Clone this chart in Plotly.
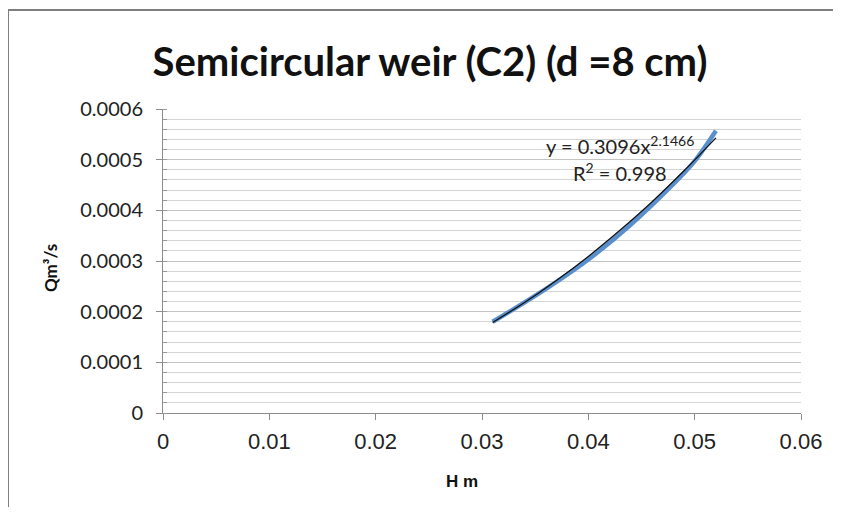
import plotly.graph_objects as go

# Observed data (H in m, Q in m^3/s)
H_obs = [0.031, 0.0355, 0.040, 0.044, 0.048, 0.050, 0.052]
Q_obs = [0.000180, 0.000238, 0.000303, 0.000372, 0.000452, 0.000497, 0.000557]

# Power trendline values
H_fit = [0.031, 0.034, 0.037, 0.040, 0.043, 0.046, 0.049, 0.052]
Q_fit = [0.0001787, 0.000218, 0.0002615, 0.000309, 0.000361, 0.000417, 0.000478, 0.000543]

x_ticks = [0, 0.01, 0.02, 0.03, 0.04, 0.05, 0.06]
y_ticks = [0, 0.0001, 0.0002, 0.0003, 0.0004, 0.0005, 0.0006]
y_labels = ["0", "0.0001", "0.0002", "0.0003", "0.0004", "0.0005", "0.0006"]

# page has 8px body margin, so figure is drawn 8px in from the page edge
OFF = 8
W, H = 825, 499
L, R, T, B = 155, 32, 101, 94
pw, ph = W - L - R, H - T - B

def px(xp):
    return (xp - OFF - L) / pw

def py(yp):
    return (H - B - (yp - OFF)) / ph

fig = go.Figure()
fig.add_trace(go.Scatter(x=H_obs, y=Q_obs, mode="lines", line=dict(color="#5a8fce", width=4.5, shape="spline"),
                         showlegend=False, hoverinfo="skip"))
fig.add_trace(go.Scatter(x=H_fit, y=Q_fit, mode="lines", line=dict(color="#111111", width=1.3, shape="spline"),
                         showlegend=False, hoverinfo="skip"))

fig.update_layout(
    width=W, height=H,
    margin=dict(l=L, r=R, t=T, b=B),
    paper_bgcolor="white", plot_bgcolor="white",
    title=dict(text="<b>Semicircular weir (C2) (d =8 cm)</b>", xref="container", x=(430 - OFF) / W, xanchor="center",
               yref="container", y=1 - (62 - OFF) / H, yanchor="middle",
               font=dict(family="Lato", size=40, color="#111111")),
    xaxis=dict(range=[0, 0.06], tickvals=x_ticks, ticktext=[str(v) for v in x_ticks],
               showgrid=False, zeroline=False, showline=True, linecolor="#8c8c8c", linewidth=1,
               ticks="outside", ticklen=6, tickcolor="#8c8c8c", ticklabelstandoff=3,
               tickfont=dict(family="Liberation Sans", size=22, color="#222222")),
    yaxis=dict(range=[0, 0.0006], tickvals=y_ticks, ticktext=y_labels,
               showgrid=True, gridcolor="#c4c4c4", gridwidth=1, zeroline=False,
               showline=True, linecolor="#8c8c8c", linewidth=1,
               ticks="outside", ticklen=6, tickcolor="#8c8c8c", ticklabelstandoff=9,
               tickfont=dict(family="Lato", size=20, color="#222222"),
               minor=dict(dtick=0.00002, showgrid=True, gridcolor="#d4d4d4", gridwidth=1,
                          ticks="inside", ticklen=4, tickcolor="#9a9a9a")),
)

# axis titles
fig.add_annotation(text="<b>Qm³/s</b>", xref="paper", yref="paper", x=px(50), y=py(268),
                   xanchor="center", yanchor="middle",
                   textangle=-90, showarrow=False, font=dict(family="Lato", size=17, color="#111111"))
fig.add_annotation(text="<b>H m</b>", xref="paper", yref="paper", x=px(462), y=py(481),
                   xanchor="center", yanchor="middle",
                   showarrow=False, font=dict(family="Liberation Sans", size=17, color="#111111"))

# trendline equation
fig.add_annotation(text="y = 0.3096x<sup>2.1466</sup>", xref="paper", yref="paper", x=px(620), y=py(145),
                   xanchor="center", yanchor="middle",
                   showarrow=False, font=dict(family="Lato", size=20, color="#222222"))
fig.add_annotation(text="R<sup>2</sup> = 0.998", xref="paper", yref="paper", x=px(620), y=py(172),
                   xanchor="center", yanchor="middle",
                   showarrow=False, font=dict(family="Lato", size=20, color="#222222"))

# chart border (only left and top edges are visible in the reference)
border = dict(color="#7f7f7f", width=2)
fig.add_shape(type="line", xref="paper", yref="paper", x0=px(8), y0=py(10), x1=px(8), y1=py(515), line=border, layer="below")
fig.add_shape(type="line", xref="paper", yref="paper", x0=px(8), y0=py(10), x1=px(841), y1=py(10), line=border, layer="below")

fig.write_html("out.html")
